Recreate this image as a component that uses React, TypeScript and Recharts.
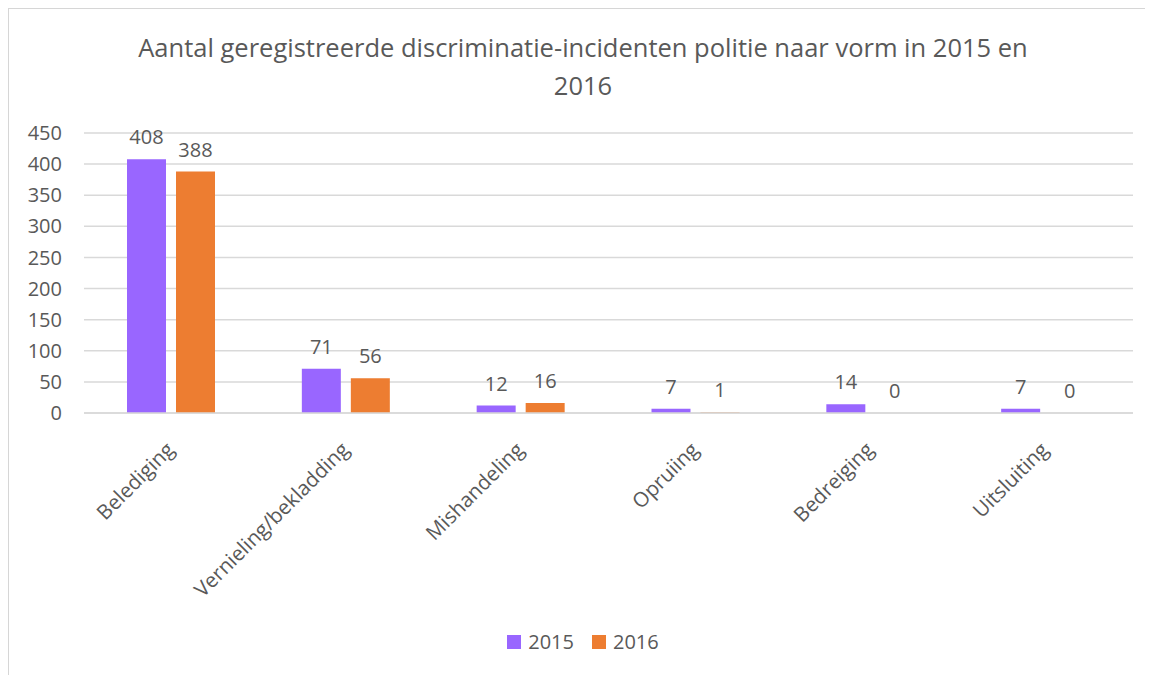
import React from 'react'
import { BarChart, Bar, XAxis, YAxis, CartesianGrid, LabelList } from 'recharts'

const categories = ['Belediging', 'Vernieling/bekladding', 'Mishandeling', 'Opruiing', 'Bedreiging', 'Uitsluiting']
const values2015 = [408, 71, 12, 7, 14, 7]
const values2016 = [388, 56, 16, 1, 0, 0]
const yTicks = [0, 50, 100, 150, 200, 250, 300, 350, 400, 450]

const data = categories.map((name, i) => ({ name, y2015: values2015[i], y2016: values2016[i] }))

const FONT = '"Open Sans", "DejaVu Sans", sans-serif'
const TEXT = '#595959'
const PURPLE = '#9966FF'
const ORANGE = '#ED7D31'

// rotated category label, anchored at its end
const CategoryTick = ({ x, y, payload }: any) => (
  <g transform={`translate(${x + 4},${y + 30}) rotate(-45)`}>
    <text x={0} y={0} textAnchor="end" fill={TEXT} fontSize={20.5} fontFamily={FONT}>
      {payload.value}
    </text>
  </g>
)

// value label above the bar (also drawn for zero values)
const renderValue = (props: any) => {
  const { x, y, width, height, value } = props
  const top = Math.min(Number(y), Number(y) + Number(height || 0))
  return (
    <text
      x={Number(x) + Number(width) / 2}
      y={top - 15}
      textAnchor="middle"
      fill={TEXT}
      fontSize={20}
      fontFamily={FONT}
    >
      {value}
    </text>
  )
}

// zero values still need a (invisible) rect so their label gets drawn
const tinyForZero = (value: any) => (Number(value) === 0 ? 0.01 : 0)

export default function App() {
  return (
    <div
      style={{
        position: 'relative',
        boxSizing: 'border-box',
        width: 1146,
        height: 668,
        marginLeft: -1,
        marginTop: -1,
        borderTop: '2px solid #d6d6d6',
        borderLeft: '2px solid #d6d6d6',
        background: '#fff',
        fontFamily: FONT,
        overflow: 'hidden',
      }}
    >
      <div
        style={{
          position: 'absolute',
          top: 19,
          left: -1,
          width: 1150,
          textAlign: 'center',
          color: TEXT,
          fontSize: 25.5,
          lineHeight: '38px',
        }}
      >
        Aantal geregistreerde discriminatie-incidenten politie naar vorm in 2015 en
        <br />
        2016
      </div>
      <div style={{ position: 'absolute', left: -1, top: -1 }}>
        <BarChart
          width={1142}
          height={667}
          data={data}
          margin={{ top: 125, right: 17, left: 0, bottom: 0 }}
          barSize={39}
          barGap={10}
        >
          <CartesianGrid stroke="#d9d9d9" strokeWidth={1.5} vertical={false} />
          <XAxis
            dataKey="name"
            height={262}
            interval={0}
            tick={<CategoryTick />}
            tickLine={false}
            axisLine={{ stroke: '#d9d9d9', strokeWidth: 1.5 }}
          />
          <YAxis
            width={76}
            domain={[0, 450]}
            ticks={yTicks}
            tickSize={0}
            tickMargin={22}
            axisLine={false}
            tickLine={false}
            tick={{ fill: TEXT, fontSize: 20, fontFamily: FONT }}
          />
          <Bar dataKey="y2015" fill={PURPLE} minPointSize={tinyForZero} isAnimationActive={false}>
            <LabelList dataKey="y2015" content={renderValue} />
          </Bar>
          <Bar dataKey="y2016" fill={ORANGE} minPointSize={tinyForZero} isAnimationActive={false}>
            <LabelList dataKey="y2016" content={renderValue} />
          </Bar>
        </BarChart>
      </div>
      <div
        style={{
          position: 'absolute',
          top: 619,
          left: -1,
          width: 1150,
          display: 'flex',
          justifyContent: 'center',
          alignItems: 'center',
          gap: 18,
          color: TEXT,
          fontSize: 20,
        }}
      >
        {[
          { label: '2015', color: PURPLE },
          { label: '2016', color: ORANGE },
        ].map((item) => (
          <div key={item.label} style={{ display: 'flex', alignItems: 'center', gap: 7 }}>
            <span style={{ display: 'inline-block', width: 14, height: 14, background: item.color }} />
            <span>{item.label}</span>
          </div>
        ))}
      </div>
    </div>
  )
}
